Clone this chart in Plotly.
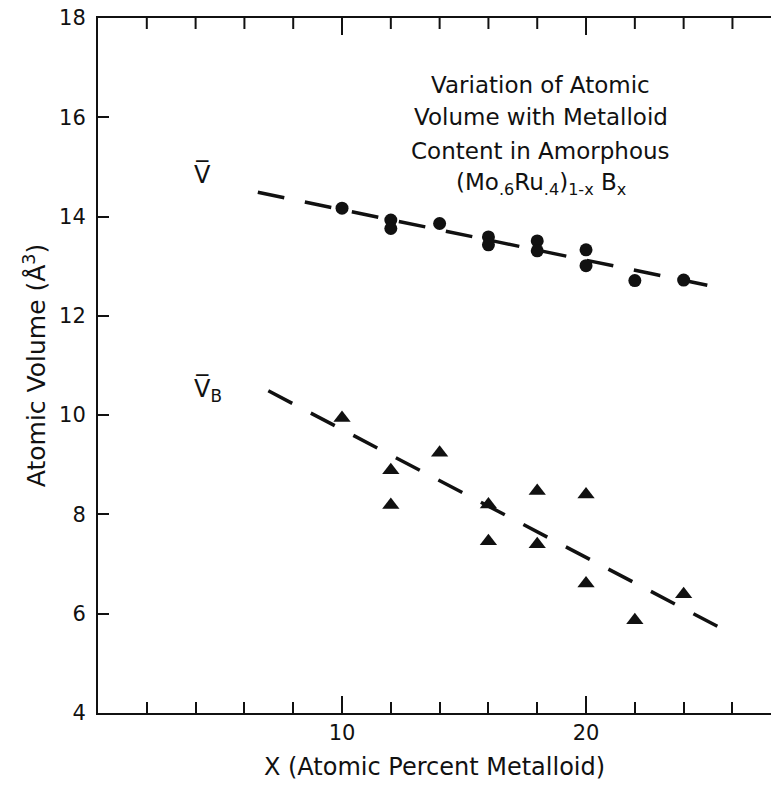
import plotly.graph_objects as go

# --- data ---
x_vbar = [10, 12, 12, 14, 16, 16, 18, 18, 20, 20, 22, 24]
y_vbar = [14.17, 13.93, 13.76, 13.86, 13.59, 13.43, 13.51, 13.31, 13.33, 13.01, 12.71, 12.72]

x_vb = [10, 12, 12, 14, 16, 16, 18, 18, 20, 20, 22, 24]
y_vb = [9.94, 8.89, 8.19, 9.24, 8.20, 7.46, 8.47, 7.40, 8.40, 6.61, 5.87, 6.39]

fit_vbar_x = [6.55, 25.42]
fit_vbar_y = [14.49, 12.57]
fit_vb_x = [6.98, 26.07]
fit_vb_y = [10.49, 5.57]

x_ticks = [10, 20]
x_minor_ticks = [2, 4, 6, 8, 12, 14, 16, 18, 22, 24, 26]
y_ticks = [4, 6, 8, 10, 12, 14, 16, 18]

title_lines = [
    "Variation of Atomic",
    "Volume with Metalloid",
    "Content in Amorphous",
    "(Mo<sub>.6</sub>Ru<sub>.4</sub>)<sub>1-x</sub> B<sub>x</sub>",
]

INK = "#111111"
FONT = "DejaVu Sans"
W, H = 771, 787
MARGIN = dict(l=98, r=0, t=18, b=74)
PLOT_H = H - MARGIN["t"] - MARGIN["b"]
MAJOR_LEN, MINOR_LEN = 17, 11
TICK_W = 2

fig = go.Figure()
fig.add_trace(go.Scatter(x=fit_vbar_x, y=fit_vbar_y, mode="lines",
                         line=dict(color=INK, width=3.5, dash="27px,21px"),
                         showlegend=False, hoverinfo="skip"))
fig.add_trace(go.Scatter(x=fit_vb_x, y=fit_vb_y, mode="lines",
                         line=dict(color=INK, width=3.5, dash="27px,21px"),
                         showlegend=False, hoverinfo="skip"))
fig.add_trace(go.Scatter(x=x_vbar, y=y_vbar, mode="markers",
                         marker=dict(symbol="circle", size=13, color=INK),
                         showlegend=False))
fig.add_trace(go.Scatter(x=x_vb, y=y_vb, mode="markers",
                         marker=dict(symbol="triangle-up", size=15, color=INK),
                         showlegend=False))

# title block (centered)
title_y = [16.65, 16.0, 15.32, 14.65]
for txt, ty in zip(title_lines, title_y):
    fig.add_annotation(x=18.15, y=ty, xref="x", yref="y", text=txt, showarrow=False,
                       font=dict(family=FONT, size=23, color=INK), xanchor="center", yanchor="middle")

fig.add_annotation(x=4.3, y=14.85, text="V\u0305", showarrow=False,
                   font=dict(family=FONT, size=24, color=INK))
fig.add_annotation(x=4.5, y=10.5, text="V\u0305<sub>B</sub>", showarrow=False,
                   font=dict(family=FONT, size=24, color=INK))

# ticks along the top frame (mirroring the bottom axis ticks)
for tv in x_ticks:
    fig.add_shape(type="line", xref="x", yref="paper", x0=tv, x1=tv, layer="above",
                  y0=1, y1=1 - MAJOR_LEN / PLOT_H, line=dict(color=INK, width=TICK_W))
for tv in x_minor_ticks:
    fig.add_shape(type="line", xref="x", yref="paper", x0=tv, x1=tv, layer="above",
                  y0=1, y1=1 - MINOR_LEN / PLOT_H, line=dict(color=INK, width=TICK_W))

fig.update_layout(
    xaxis=dict(range=[0, 27.58], tickmode="array", tickvals=x_ticks, ticks="inside",
               ticklen=MAJOR_LEN, tickwidth=TICK_W, tickcolor=INK, showline=True, linecolor=INK,
               linewidth=2, mirror=True, showgrid=False, zeroline=False,
               minor=dict(tickmode="array", tickvals=x_minor_ticks, ticks="inside",
                          ticklen=MINOR_LEN, tickwidth=TICK_W, tickcolor=INK, showgrid=False),
               tickfont=dict(family=FONT, size=21, color=INK),
               title=dict(text="X (Atomic Percent Metalloid)",
                          font=dict(family=FONT, size=24, color=INK), standoff=14)),
    yaxis=dict(range=[4, 18], tickvals=y_ticks, ticks="inside", ticklen=11, tickwidth=TICK_W,
               tickcolor=INK, showline=True, linecolor=INK, linewidth=2,
               showgrid=False, zeroline=False, ticklabelstandoff=6,
               tickfont=dict(family=FONT, size=21, color=INK),
               title=dict(text="Atomic Volume (Å<sup>3</sup>)",
                          font=dict(family=FONT, size=25, color=INK), standoff=6)),
    width=W, height=H, margin=MARGIN,
    plot_bgcolor="white", paper_bgcolor="white",
)
fig.write_html("out.html")
